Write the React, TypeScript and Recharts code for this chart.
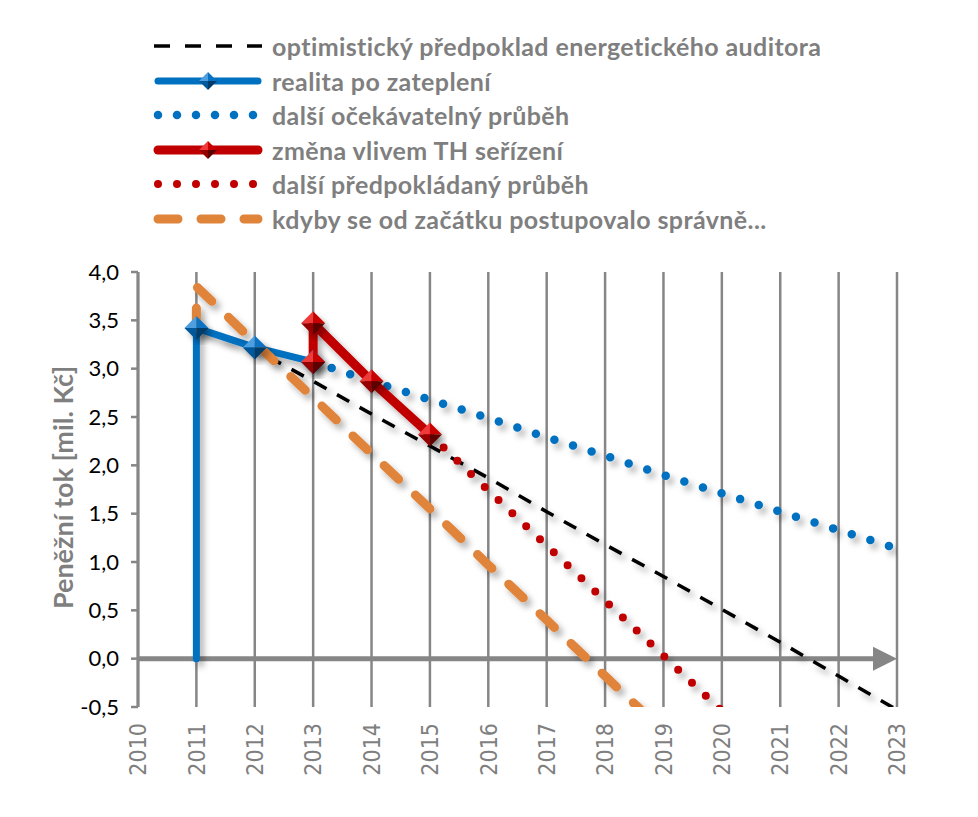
import React from 'react';
import { LineChart, Line, XAxis, YAxis, CartesianGrid, ReferenceLine } from 'recharts';

// years on the x axis and value ticks on the y axis
const years = [2010, 2011, 2012, 2013, 2014, 2015, 2016, 2017, 2018, 2019, 2020, 2021, 2022, 2023];
const yTicks = [-0.5, 0, 0.5, 1, 1.5, 2, 2.5, 3, 3.5, 4];

// optimistický předpoklad energetického auditora
const auditorYears = [2011, 2012, 2013, 2014, 2015, 2016, 2017, 2018, 2019, 2020, 2021, 2022, 2023];
const auditorValues = [3.42, 3.2, 2.87, 2.53, 2.2, 1.87, 1.52, 1.18, 0.85, 0.51, 0.17, -0.18, -0.53];

// realita po zateplení
const realityYears = [2011, 2011, 2012, 2013];
const realityValues = [0, 3.42, 3.22, 3.07];

// další očekávatelný průběh
const expectedYears = [2013, 2014, 2015, 2016, 2017, 2018, 2019, 2020, 2021, 2022, 2023];
const expectedValues = [3.07, 2.87, 2.68, 2.49, 2.29, 2.1, 1.9, 1.71, 1.52, 1.33, 1.14];

// změna vlivem TH seřízení
const thYears = [2013, 2013, 2014, 2015];
const thValues = [3.07, 3.47, 2.87, 2.32];

// další předpokládaný průběh
const assumedYears = [2015, 2016, 2017, 2018, 2019, 2020];
const assumedValues = [2.32, 1.74, 1.17, 0.6, 0.03, -0.54];

// kdyby se od začátku postupovalo správně...
const properYears = [2011, 2011, 2012, 2013, 2014, 2015, 2016, 2017, 2018, 2019];
const properValues = [3.42, 3.85, 3.27, 2.7, 2.12, 1.55, 0.97, 0.4, -0.18, -0.75];

const seriesNames = [
  'optimistický předpoklad energetického auditora',
  'realita po zateplení',
  'další očekávatelný průběh',
  'změna vlivem TH seřízení',
  'další předpokládaný průběh',
  'kdyby se od začátku postupovalo správně...',
];

const toPoints = (xs: number[], ys: number[]) => xs.map((x, i) => ({ x, y: ys[i] }));

const BLUE = '#0070C0';
const RED = '#C00000';
const ORANGE = '#E0843A';
const GRID = '#868686';
const TEXT_GRAY = '#7F7F7F';

const series = [
  { name: seriesNames[0], data: toPoints(auditorYears, auditorValues), color: '#000', width: 3.5, dash: '14 12', legendDash: '16 15', cap: 'butt', marker: null, skipFirst: false },
  { name: seriesNames[1], data: toPoints(realityYears, realityValues), color: BLUE, width: 7, dash: undefined, legendDash: undefined, cap: 'round', marker: 'blue', skipFirst: true },
  { name: seriesNames[2], data: toPoints(expectedYears, expectedValues), color: BLUE, width: 8.5, dash: '0 19.5', legendDash: '0 19', cap: 'round', marker: null, skipFirst: false },
  { name: seriesNames[3], data: toPoints(thYears, thValues), color: RED, width: 9, dash: undefined, legendDash: undefined, cap: 'round', marker: 'red', skipFirst: false },
  { name: seriesNames[4], data: toPoints(assumedYears, assumedValues), color: RED, width: 8, dash: '0 19', legendDash: '0 19', cap: 'round', marker: null, skipFirst: false },
  { name: seriesNames[5], data: toPoints(properYears, properValues), color: ORANGE, width: 9, dash: '20 23', legendDash: '20 23', cap: 'round', marker: null, skipFirst: false },
];

const shades: Record<string, string[]> = {
  blue: ['#4F9FE0', '#0A72C2', '#00599A', '#003C6B'],
  red: ['#F03A3A', '#C80000', '#960000', '#5E0000'],
};

function Diamond({ cx, cy, tone, size = 12, shadow = true }: any) {
  const c = shades[tone];
  const t = `${cx},${cy - size}`;
  const r = `${cx + size},${cy}`;
  const b = `${cx},${cy + size}`;
  const l = `${cx - size},${cy}`;
  const m = `${cx},${cy}`;
  return (
    <g filter={shadow ? 'url(#shadow)' : undefined}>
      <polygon points={`${l} ${t} ${m}`} fill={c[0]} />
      <polygon points={`${t} ${r} ${m}`} fill={c[1]} />
      <polygon points={`${l} ${m} ${b}`} fill={c[2]} />
      <polygon points={`${m} ${r} ${b}`} fill={c[3]} />
    </g>
  );
}

function XTick({ x, y, payload }: any) {
  return (
    <text
      x={x}
      y={y}
      dy="0.36em"
      transform={`rotate(-90, ${x}, ${y})`}
      textAnchor="end"
      fill={TEXT_GRAY}
      fontSize={23}
      fontFamily="'DejaVu Sans Condensed', 'DejaVu Sans', sans-serif"
      fontStretch="condensed"
    >
      {payload.value}
    </text>
  );
}

function YTitle({ viewBox }: any) {
  const cx = viewBox.x - 16;
  const cy = viewBox.y + viewBox.height / 2 - 2;
  return (
    <text
      x={cx}
      y={cy}
      transform={`rotate(-90, ${cx}, ${cy})`}
      textAnchor="middle"
      dominantBaseline="central"
      fill={TEXT_GRAY}
      fontSize={27}
      fontWeight="bold"
      fontFamily="Lato, sans-serif"
    >
      Peněžní tok [mil. Kč]
    </text>
  );
}

function ZeroArrow(props: any) {
  const { x1, y1, x2, y2 } = props;
  return (
    <g>
      <line x1={x1} y1={y1} x2={x2 - 20} y2={y2} stroke={GRID} strokeWidth={5} />
      <polygon points={`${x2 - 24},${y2 - 12} ${x2},${y2} ${x2 - 24},${y2 + 12}`} fill={GRID} />
    </g>
  );
}

function LegendSample({ s }: any) {
  return (
    <svg width={112} height={24} style={{ display: 'block' }}>
      <line
        x1={s.cap === 'round' ? 6 : 2}
        y1={12}
        x2={s.cap === 'round' ? 106 : 110}
        y2={12}
        stroke={s.color}
        strokeWidth={s.width}
        strokeDasharray={s.legendDash}
        strokeLinecap={s.cap}
      />
      {s.marker && <Diamond cx={56} cy={12} tone={s.marker} size={9} shadow={false} />}
    </svg>
  );
}

export default function App() {
  return (
    <div style={{ position: 'relative', width: 960, height: 800, fontFamily: 'Lato, sans-serif' }}>
      <div style={{ position: 'absolute', left: 144, top: 21 }}>
        {series.map((s) => (
          <div key={s.name} style={{ display: 'flex', alignItems: 'center', height: 34.5 }}>
            <LegendSample s={s} />
            <span
              style={{
                marginLeft: 8,
                fontSize: 25,
                letterSpacing: 0.4,
                fontWeight: 'bold',
                color: TEXT_GRAY,
                whiteSpace: 'nowrap',
              }}
            >
              {s.name}
            </span>
          </div>
        ))}
      </div>
      <LineChart width={960} height={800} margin={{ top: 264, right: 71, bottom: 11, left: 70 }}>
        <defs>
          <filter id="shadow" x="-20%" y="-20%" width="140%" height="140%">
            <feDropShadow dx="4" dy="5" stdDeviation="3" floodColor="#000" floodOpacity="0.3" />
          </filter>
        </defs>
        <CartesianGrid horizontal={false} stroke={GRID} strokeWidth={2.5} />
        <XAxis
          type="number"
          dataKey="x"
          domain={[2010, 2023]}
          ticks={years}
          interval={0}
          allowDataOverflow
          axisLine={false}
          tickLine={false}
          tickSize={0}
          tickMargin={16}
          height={90}
          tick={<XTick />}
        />
        <YAxis
          type="number"
          domain={[-0.5, 4]}
          ticks={yTicks}
          interval={0}
          allowDataOverflow
          width={60}
          axisLine={{ stroke: GRID, strokeWidth: 3 }}
          tickLine={{ stroke: GRID, strokeWidth: 2.5 }}
          tickSize={7}
          tickMargin={12}
          tick={{ fill: '#000', fontSize: 22, fontFamily: 'Lato, sans-serif' }}
          tickFormatter={(v: number) => v.toFixed(1).replace('.', ',')}
          label={<YTitle />}
        />
        <ReferenceLine y={0} shape={<ZeroArrow />} />
        {series.map((s) => (
          <Line
            key={s.name}
            data={s.data}
            dataKey="y"
            name={s.name}
            type="linear"
            stroke={s.color}
            strokeWidth={s.width}
            strokeDasharray={s.dash}
            strokeLinecap={s.cap as any}
            strokeLinejoin="round"
            filter="url(#shadow)"
            isAnimationActive={false}
            activeDot={false}
            dot={
              s.marker
                ? (p: any) =>
                    s.skipFirst && p.index === 0 ? (
                      <g key={`d-${p.index}`} />
                    ) : (
                      <Diamond key={`d-${p.index}`} cx={p.cx} cy={p.cy} tone={s.marker} size={12} />
                    )
                : false
            }
          />
        ))}
      </LineChart>
    </div>
  );
}
